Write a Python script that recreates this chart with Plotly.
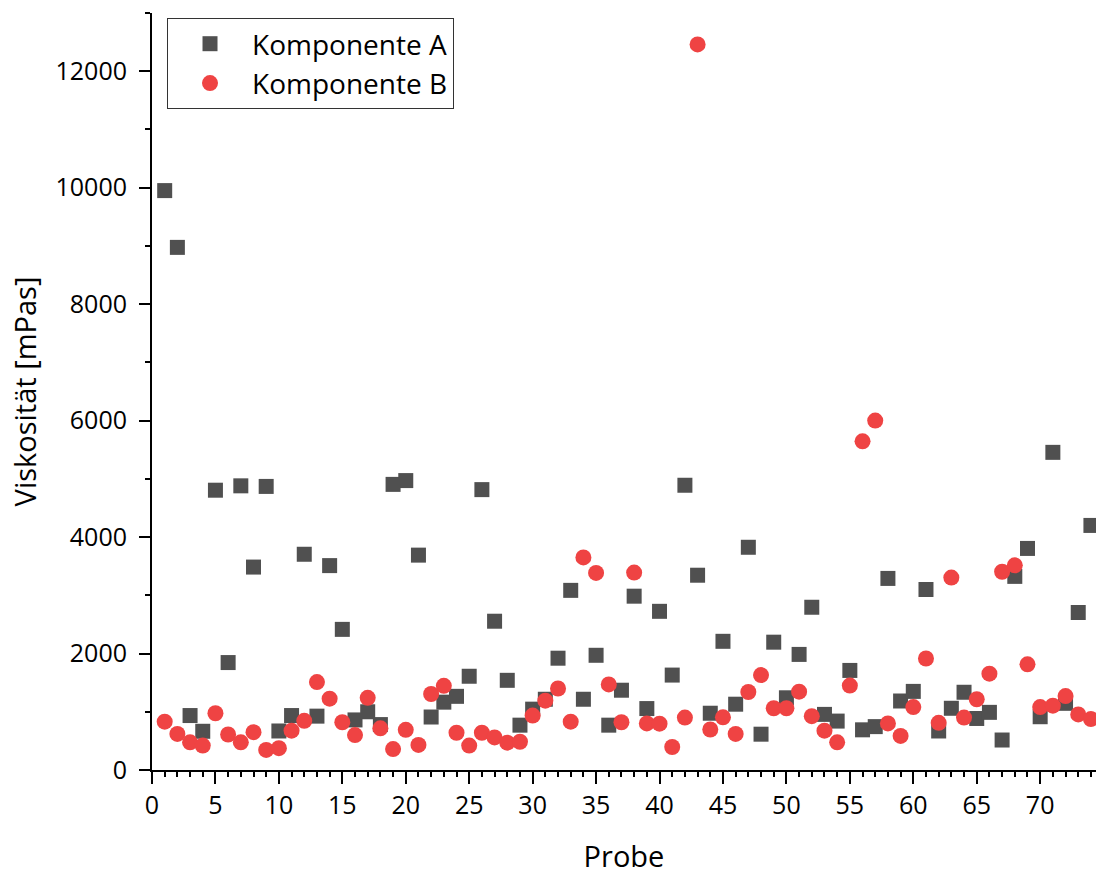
import plotly.graph_objects as go

probe = [1, 2, 3, 4, 5, 6, 7, 8, 9, 10, 11, 12, 13, 14, 15, 16, 17, 18, 19, 20,
         21, 22, 23, 24, 25, 26, 27, 28, 29, 30, 31, 32, 33, 34, 35, 36, 37, 38, 39, 40,
         41, 42, 43, 44, 45, 46, 47, 48, 49, 50, 51, 52, 53, 54, 55, 56, 57, 58, 59, 60,
         61, 62, 63, 64, 65, 66, 67, 68, 69, 70, 71, 72, 73, 74]

komponente_a = [9950, 8975, 935, 665, 4805, 1845, 4880, 3485, 4870, 670,
                935, 3705, 925, 3510, 2415, 860, 1000, 780, 4905, 4970,
                3690, 910, 1165, 1265, 1610, 4815, 2555, 1540, 770, 1045,
                1215, 1920, 3085, 1215, 1970, 770, 1370, 2985, 1055, 2725,
                1630, 4890, 3345, 975, 2210, 1130, 3825, 615, 2195, 1240,
                1985, 2795, 955, 840, 1710, 690, 745, 3290, 1185, 1350,
                3100, 670, 1060, 1335, 885, 990, 515, 3325, 3805, 915,
                5455, 1145, 2705, 4200]

komponente_b = [830, 620, 475, 420, 975, 610, 475, 650, 345, 375,
                675, 845, 1510, 1225, 820, 600, 1240, 715, 360, 690,
                430, 1305, 1445, 640, 420, 640, 560, 470, 485, 935,
                1190, 1400, 830, 3650, 3385, 1470, 820, 3390, 800, 795,
                395, 900, 12460, 695, 905, 620, 1340, 1630, 1060, 1060,
                1345, 925, 675, 475, 1450, 5645, 6000, 800, 585, 1080,
                1915, 810, 3305, 900, 1215, 1655, 3405, 3515, 1815, 1080,
                1105, 1270, 955, 875]

FONT = "Open Sans"

fig = go.Figure()
fig.add_trace(go.Scatter(
    x=probe, y=komponente_a, mode="markers", name="Komponente A",
    marker=dict(symbol="square", size=15, color="#505050", line=dict(width=0)),
))
fig.add_trace(go.Scatter(
    x=probe, y=komponente_b, mode="markers", name="Komponente B",
    marker=dict(symbol="circle", size=16, color="#EF4343", line=dict(width=0)),
))

fig.update_layout(
    width=1103, height=875,
    margin=dict(l=152, r=7, t=13, b=105),
    paper_bgcolor="white", plot_bgcolor="white",
    font=dict(family=FONT, size=25, color="black"),
    showlegend=True,
    legend=dict(
        x=0.0159, y=0.9934, xanchor="left", yanchor="top",
        bgcolor="white", bordercolor="#333333", borderwidth=1,
        font=dict(family=FONT, size=28, color="black"),
        itemwidth=74, tracegroupgap=0,
    ),
    xaxis=dict(
        range=[0, 74.4], showgrid=False, zeroline=False,
        showline=True, linecolor="black", linewidth=2, mirror=False,
        tickmode="linear", tick0=0, dtick=5,
        ticks="outside", ticklen=12, tickwidth=2, tickcolor="black",
        minor=dict(dtick=1, ticks="outside", ticklen=5, tickwidth=2, tickcolor="black", showgrid=False),
        tickfont=dict(family=FONT, size=25, color="black"),
        title=dict(text="Probe", font=dict(family=FONT, size=29, color="black"), standoff=28),
        automargin=False,
    ),
    yaxis=dict(
        range=[0, 13000], showgrid=False, zeroline=False,
        showline=True, linecolor="black", linewidth=2, mirror=False,
        tickmode="linear", tick0=0, dtick=2000, tickformat="d",
        ticks="outside", ticklen=11, tickwidth=2, tickcolor="black",
        ticklabelstandoff=7,
        minor=dict(dtick=1000, ticks="outside", ticklen=5, tickwidth=2, tickcolor="black", showgrid=False),
        tickfont=dict(family=FONT, size=25, color="black"),
        title=dict(text="Viskosität [mPas]", font=dict(family=FONT, size=29, color="black"), standoff=10),
        automargin=False,
    ),
)

fig.write_html("out.html")
